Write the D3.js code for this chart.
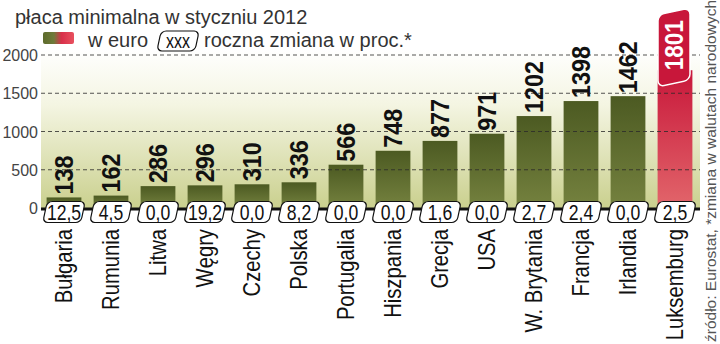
<!DOCTYPE html>
<html>
<head>
<meta charset="utf-8">
<script src="https://cdn.jsdelivr.net/npm/d3@7"></script>
<style>
  html, body { margin: 0; padding: 0; background: #fff; }
  svg { display: block; }
</style>
</head>
<body>
<svg id="chart" width="720" height="344"></svg>
<script>
const categories = ["Bułgaria","Rumunia","Litwa","Węgry","Czechy","Polska","Portugalia","Hiszpania","Grecja","USA","W. Brytania","Francja","Irlandia","Luksemburg"];
const wages = [138,162,286,296,310,336,566,748,877,971,1202,1398,1462,1801];
const changes = ["12,5","4,5","0,0","19,2","0,0","8,2","0,0","0,0","1,6","0,0","2,7","2,4","0,0","2,5"];
const yTicks = [0,500,1000,1500,2000];
const highlight = "Luksemburg";
const title = "płaca minimalna w styczniu 2012";
const legendEuro = "w euro";
const legendBox = "xxx";
const legendChange = "roczna zmiana w proc.*";
const source = "źródło: Eurostat, *zmiana w walutach narodowych";

const svg = d3.select("#chart");
const sans = "'Liberation Sans',Arial,sans-serif";

const x = d3.scaleBand().domain(categories).range([40.5, 698.5]).paddingInner(0.26).paddingOuter(0.13);
const y = d3.scaleLinear().domain([0, 2000]).range([208, 55]);

const defs = svg.append("defs");
const bg = defs.append("linearGradient").attr("id","bg").attr("x1",0).attr("x2",0).attr("y1",0).attr("y2",1);
bg.append("stop").attr("offset","0%").attr("stop-color","#ffffff");
bg.append("stop").attr("offset","35%").attr("stop-color","#f4f5e2");
bg.append("stop").attr("offset","100%").attr("stop-color","#cad08e");
const gG = defs.append("linearGradient").attr("id","gbar").attr("x1",0).attr("x2",0).attr("y1",0).attr("y2",1);
gG.append("stop").attr("offset","0%").attr("stop-color","#4c5a22");
gG.append("stop").attr("offset","100%").attr("stop-color","#75823f");
const rG = defs.append("linearGradient").attr("id","rbar").attr("x1",0).attr("x2",0).attr("y1",0).attr("y2",1);
rG.append("stop").attr("offset","0%").attr("stop-color","#c8173a");
rG.append("stop").attr("offset","100%").attr("stop-color","#e2666b");
const lg = defs.append("linearGradient").attr("id","leg").attr("x1",0).attr("x2",1).attr("y1",0).attr("y2",0);
lg.append("stop").attr("offset","0%").attr("stop-color","#5d6b2c");
lg.append("stop").attr("offset","35%").attr("stop-color","#6f7a3a");
lg.append("stop").attr("offset","60%").attr("stop-color","#d8304a");
lg.append("stop").attr("offset","100%").attr("stop-color","#e8505e");

// background
svg.append("rect").attr("x", 41).attr("y", y(2000) - 6).attr("width", 659).attr("height", y(0) - y(2000) + 6).attr("fill","url(#bg)");

// bars
svg.append("g").selectAll("rect").data(categories).join("rect")
  .attr("x", d => x(d)).attr("width", x.bandwidth())
  .attr("y", (d,i) => y(wages[i])).attr("height", (d,i) => y(0) - y(wages[i]))
  .attr("fill", d => d === highlight ? "url(#rbar)" : "url(#gbar)");

// gridlines
svg.append("g").selectAll("line").data(yTicks.filter(t => t > 0)).join("line")
  .attr("x1", 41).attr("x2", 700).attr("y1", d => y(d)).attr("y2", d => y(d))
  .attr("stroke", "#2a2a2a").attr("stroke-width", 1).attr("stroke-dasharray", "4,3").attr("opacity", 0.8);

// y tick labels
svg.append("g").selectAll("text").data(yTicks).join("text")
  .attr("x", 38).attr("y", d => y(d) + 6).attr("text-anchor","end")
  .attr("font-family", sans).attr("font-size", 16).attr("fill", "#444")
  .text(d => d);

// value labels
categories.forEach((c, i) => {
  const cx = x(c) + x.bandwidth()/2;
  const top = y(wages[i]);
  if (c === highlight) {
    const g = svg.append("g").attr("transform", `translate(${cx},${top})`);
    const L = 72, W = 32;
    g.append("rect")
      .attr("x", -W/2 - 1).attr("y", -L + 13).attr("width", W).attr("height", L).attr("rx", 6)
      .attr("transform", "skewY(-12)")
      .attr("fill", "#c8173a").attr("stroke", "#fff").attr("stroke-width", 1.5);
    g.append("text")
      .attr("transform", `translate(8,${-L/2 + 11}) rotate(-90) scale(0.9,1)`)
      .attr("text-anchor","middle")
      .attr("font-family", sans).attr("font-weight","bold").attr("font-size", 25)
      .attr("fill", "#fff").text(wages[i]);
  } else {
    svg.append("text")
      .attr("transform", `translate(${cx + 9},${top - 3}) rotate(-90) scale(0.9,1)`)
      .attr("text-anchor","start")
      .attr("font-family", sans).attr("font-weight","bold").attr("font-size", 26)
      .attr("fill", "#111").text(wages[i]);
  }
});

// baseline
svg.append("line").attr("x1", 41).attr("x2", 700).attr("y1", y(0) + 1).attr("y2", y(0) + 1)
  .attr("stroke", "#111").attr("stroke-width", 3);

// change boxes
function changeBox(g, w, h) {
  g.append("rect").attr("x", -w/2).attr("y", -h/2).attr("width", w).attr("height", h).attr("rx", 5)
    .attr("transform", "skewX(-12)")
    .attr("fill", "#fff").attr("stroke", "#111").attr("stroke-width", 1.2);
}
categories.forEach((c, i) => {
  const cx = x(c) + x.bandwidth()/2;
  const g = svg.append("g").attr("transform", `translate(${cx},${y(0) + 4})`);
  changeBox(g, 38, 21);
  g.append("text").attr("y", 8).attr("text-anchor","middle").attr("transform","scale(0.8,1)")
    .attr("font-family", sans).attr("font-size", 22).attr("fill","#111").text(changes[i]);
});

// category labels
svg.append("g").selectAll("text").data(categories).join("text")
  .attr("transform", d => `translate(${x(d) + x.bandwidth()/2 + 8},229) rotate(-90) scale(0.88,1)`)
  .attr("text-anchor","end")
  .attr("font-family", sans).attr("font-size", 23).attr("fill","#111")
  .text(d => d);

// title
svg.append("text").attr("x", 15).attr("y", 24)
  .attr("font-family", sans).attr("font-size", 20).attr("fill","#333").text(title);

// legend
svg.append("rect").attr("x", 43).attr("y", 32).attr("width", 31).attr("height", 12).attr("rx", 2).attr("fill","url(#leg)");
svg.append("text").attr("x", 88).attr("y", 47)
  .attr("font-family", sans).attr("font-size", 20).attr("fill","#333").text(legendEuro);
const lb = svg.append("g").attr("transform", "translate(178,41)");
changeBox(lb, 38, 20);
lb.append("text").attr("y", 7).attr("text-anchor","middle").attr("transform","scale(0.8,1)")
  .attr("font-family", sans).attr("font-size", 20).attr("fill","#111").text(legendBox);
svg.append("text").attr("x", 204).attr("y", 47)
  .attr("font-family", sans).attr("font-size", 20).attr("fill","#333").text(legendChange);

// source
svg.append("text")
  .attr("transform", "translate(716,342) rotate(-90)")
  .attr("font-family", sans).attr("font-size", 15.5).attr("fill","#555").text(source);
</script>
</body>
</html>
